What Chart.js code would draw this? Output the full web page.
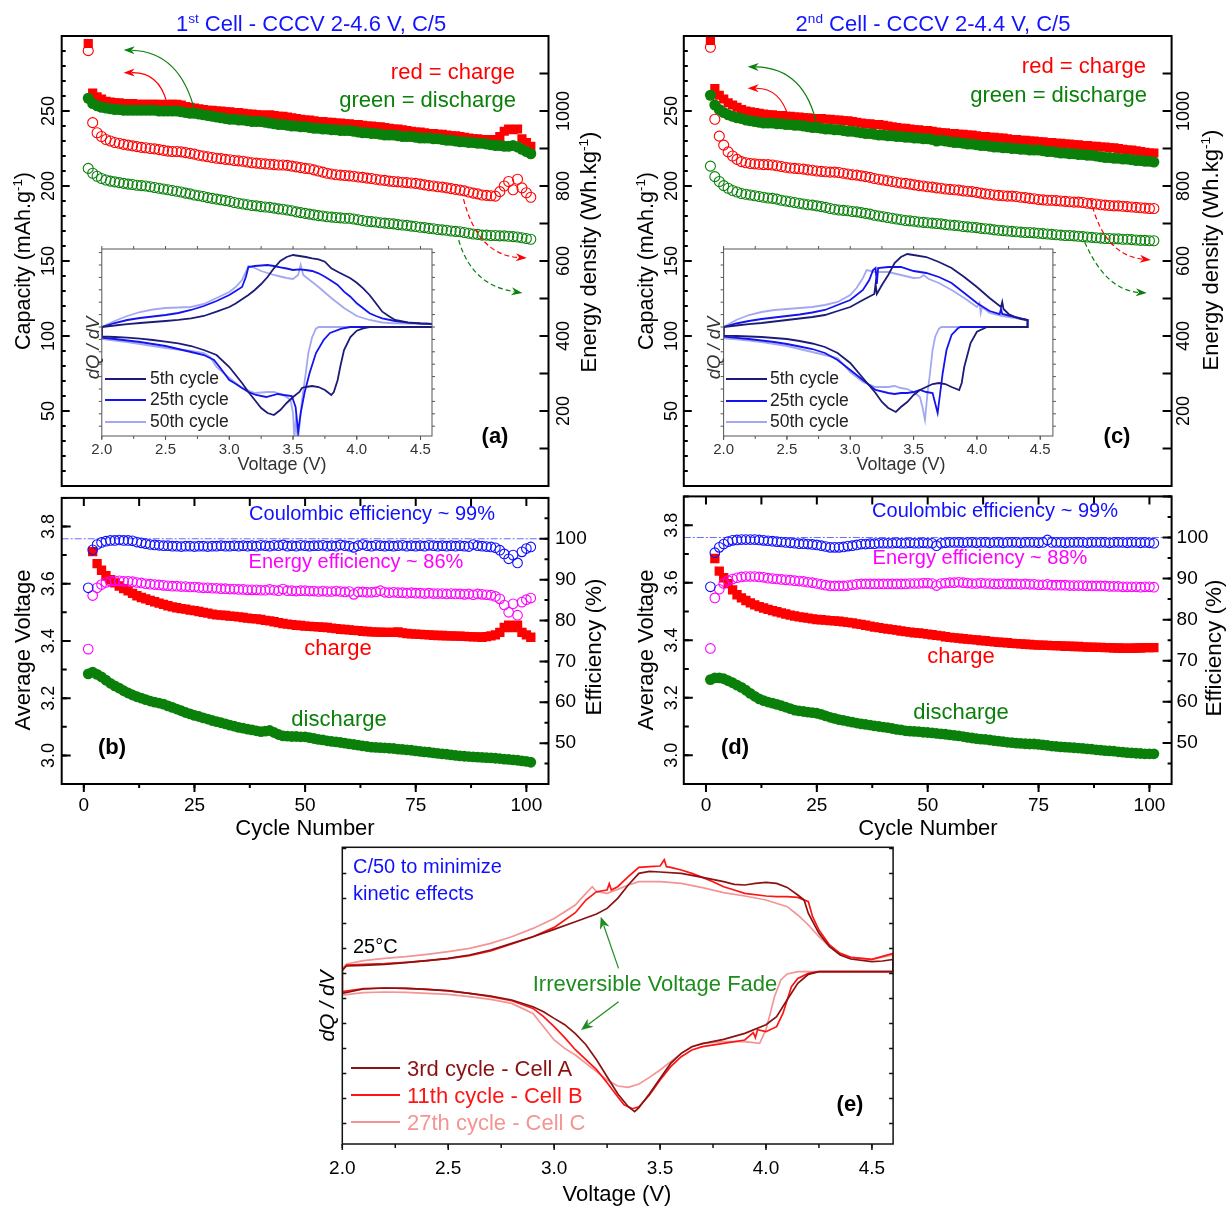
<!DOCTYPE html>
<html>
<head>
<meta charset="utf-8">
<title>Cycling of two cells and dQ/dV</title>
<script src="https://cdn.jsdelivr.net/npm/chart.js@4.4.1/dist/chart.umd.min.js"></script>
<style>
html,body{margin:0;padding:0;background:#fff;}
#wrap{position:relative;width:1226px;height:1206px;overflow:hidden;background:#fff;font-family:'Liberation Sans',Arial,Helvetica,sans-serif;}
#wrap canvas{position:absolute;}
.t{position:absolute;white-space:nowrap;line-height:1;}
.t sup{font-size:62%;vertical-align:baseline;position:relative;top:-0.6em;}
.ln{position:absolute;height:2px;}
</style>
</head>
<body>
<div id="wrap"></div>
<script>
// ---------------- categories ----------------
const cycles = [1,2,3,4,5,6,7,8,9,10,11,12,13,14,15,16,17,18,19,20,21,22,23,24,25,26,27,28,29,30,31,32,33,34,35,36,37,38,39,40,41,42,43,44,45,46,47,48,49,50,51,52,53,54,55,56,57,58,59,60,61,62,63,64,65,66,67,68,69,70,71,72,73,74,75,76,77,78,79,80,81,82,83,84,85,86,87,88,89,90,91,92,93,94,95,96,97,98,99,100,101];

// ---------------- panel (a): 1st cell capacity (mAh/g) and energy (Wh/kg) ----------------
const A_chgCap = [295,262,259.5,258,256.5,256,255.5,255.5,255,255,
255,254.5,254.5,254.5,254.5,254.5,254.5,254,254.5,254.5,
254.5,254,253,252.5,252,251.5,251,250.5,250.5,250,
250,249.5,249.5,249,249,248.5,248,248,247.5,247.5,
247,247.5,247,246.5,246.5,246,245.5,245,244.5,244,
244,243.5,243,243,242.5,242.5,242,242,241.5,241.5,
241,241,240.5,240,240,239.5,239.5,239,238.5,238,
238,237.5,237,236.5,236,236,235.5,235,235,234.5,
234.5,234,233.5,233.5,233,232.5,232,231.5,231.5,231,
231,230.5,231,233,236.5,238,237.5,238,231.5,229,
226.5];
const A_disCap = [258.5,255,253.5,252.5,252,251.5,251,251,250.5,250.5,
250.5,250.5,250.5,250.5,250.5,250.5,250,250,250,250,
250,249.5,249,248.5,248.5,248,247.5,247,246.5,246,
245.5,245,244.5,244.5,244,244,243.5,243,243,243,
242.5,242,241.5,241,241,240.5,240,240,239.5,239.5,
239,238.5,238.5,238,238,237.5,237.5,237,237,237,
236.5,236,235.5,235.5,235,235,234.5,234,234,234,
233.5,233,233,233,232.5,232,232,232,231.5,231.5,
231,230.5,230.5,230,229.5,229.5,229,229,228.5,228.5,
228,227.5,227,227,226.5,226.5,227,226,224.5,223,
221.5];
const A_chgEn = [1161,969,942,932,924,920,916,914,911,909,
907,905,903,902,900,899,897,895,893,892,
892,891,889,887,885,882,880,878,876,874,
873,871,870,868,867,866,864,862,861,860,
859,858,857,856,856,855,853,851,849,847,
846,843,840,837,834,832,830,829,828,827,
826,824,823,821,820,818,816,815,813,812,
811,810,809,808,807,805,803,801,800,798,
797,795,793,791,789,787,784,781,779,776,
775,774,773,785,800,812,790,818,795,782,
770];
const A_disEn = [847,834,826,820,816,813,811,809,807,805,
804,802,801,800,798,796,794,792,790,788,
786,784,781,779,776,774,772,769,767,765,
763,761,759,756,754,752,750,748,747,745,
744,743,741,739,738,736,734,731,729,727,
725,723,721,720,718,717,716,715,714,714,
712,710,708,706,705,704,702,701,700,699,
697,696,695,693,692,690,689,687,686,684,
683,682,680,679,678,676,674,672,671,669,
669,668,668,667,667,666,665,664,662,660,
658];

// ---------------- panel (c): 2nd cell ----------------
const C_chgCap = [297,265,260.5,258,255.5,254,252.5,251,250,249.5,
249,248.5,248,247.5,247.5,247,247,246.5,246.5,246,
246,245.5,245.5,245,245,245,244.5,244.5,244,244,
243.5,243.5,243,242.5,242,241.5,241.5,241,241,240.5,
240,239.5,239,238.5,238.5,238,237.5,237.5,237,237,
236.5,236,235.5,235.5,235,235,234.5,234.5,234,234,
233.5,233,233,232.5,232.5,232,232,231.5,231,231,
230.5,230.5,230,230,229.5,229.5,229,229,228.5,228.5,
228,228,227.5,227.5,227,227,226.5,226.5,226,226,
225.5,225.5,225,224.5,224,224,223.5,223,222.5,222,
222];
const C_disCap = [260.5,254,251,249,247.5,246.5,245.5,245,244,243.5,
243,242.5,242,242,242,241.5,241.5,241,241,240.5,
240.5,240,239.5,239,239,238.5,238,238,237.5,237.5,
237,236.5,236.5,236,235.5,235,235,234.5,234,234,
233.5,233.5,233,233,232.5,232.5,232,232,231.5,231.5,
231,230,230.5,230,229.5,229,229,228.5,228,228,
227.5,227,227,226.5,226,226,225.5,225.5,225,225,
224.5,224.5,224,224,224,223.5,223,223,222.5,222,
222,221.5,221.5,221,221,220.5,220.5,220,219.5,219,
219,218.5,218.5,218,218,217.5,217,217,216.5,216.5,
216];
const C_chgEn = [1170,978,933,909,891,880,871,865,862,860,
859,858,857,857,856,854,852,850,848,847,
846,845,843,842,840,839,838,837,837,836,
834,832,830,829,827,825,823,820,818,816,
814,812,810,808,807,805,803,801,800,798,
797,795,794,792,791,790,789,787,786,785,
783,781,779,778,776,775,774,773,773,772,
770,769,767,766,764,763,762,762,761,760,
759,758,757,757,756,754,753,752,750,749,
748,747,747,746,745,744,743,742,741,740,
740];
const C_disEn = [853,825,812,801,794,788,784,780,778,776,
774,772,770,768,767,765,762,760,758,756,
754,752,750,749,747,745,743,740,738,736,
735,734,732,731,729,727,725,722,720,718,
716,714,712,710,708,707,706,704,703,702,
701,700,699,697,696,695,694,692,691,690,
689,687,686,685,683,682,681,680,679,678,
677,676,676,675,674,673,672,671,670,669,
668,668,667,666,665,664,663,662,661,660,
660,659,659,658,658,657,656,655,655,654,
654];

// ---------------- panel (b): 1st cell voltages (V) and efficiencies (%) ----------------
const B_ce = [88,97.3,98.6,99.1,99.4,99.6,99.6,99.7,99.6,99.6,
99.5,99.2,99,98.8,98.6,98.5,98.4,98.3,98.3,98.2,
98.2,98.1,98.2,98.2,98.1,98.2,98.2,98.1,98.2,98.2,
98.3,98.2,98.2,98.3,98.2,98.3,98.2,98.3,98.2,98.4,
98.3,98.2,98.4,98.3,98.5,98.2,98.3,98.2,98.4,98.3,
98.2,98.3,98.3,98.4,98.2,98.3,98.2,98.5,98.3,98.2,
97.9,98.3,98.6,98.3,98.2,98.4,98.3,98.2,98.3,98.2,
98.3,98.4,98.2,98.3,98.2,98.3,98.2,98.4,98.3,98.2,
98.3,98.2,98.3,98.2,98.3,98.2,98.1,98.6,98.3,98.2,
98.1,98,97.8,97.2,96.3,95.1,96,94.1,96.8,97.6,
98];
const B_ee = [73,86.1,88,88.8,89.3,89.6,89.7,89.7,89.6,89.6,
89.5,89.3,89.2,89,88.9,88.8,88.7,88.6,88.5,88.4,
88.4,88.3,88.3,88.2,88.2,88.1,88,88,87.9,87.9,
87.8,87.8,87.7,87.7,87.6,87.6,87.5,87.5,87.5,87.4,
87.4,87.6,87.4,87.3,87.7,87.3,87.3,87.2,87.3,87.3,
87.2,87.2,87.1,87.2,87.1,87.1,87.2,87.1,87,87.1,
86.4,87,87,86.9,86.9,87,87.3,86.9,86.8,86.9,
86.8,86.8,86.7,86.8,86.7,86.7,86.6,86.7,86.6,86.6,
86.6,86.5,86.6,86.5,86.5,86.4,86.5,86.3,86.5,86.4,
86.3,86.2,85.9,85.3,83.8,82,84.1,81.3,84.5,85.1,
85.5];
const B_chgV = [null,3.712,3.67,3.647,3.628,3.614,3.603,3.592,3.583,3.575,
3.566,3.558,3.552,3.547,3.542,3.537,3.532,3.528,3.523,3.519,
3.516,3.513,3.511,3.508,3.506,3.503,3.5,3.497,3.494,3.491,
3.49,3.489,3.487,3.486,3.484,3.482,3.48,3.478,3.477,3.475,
3.472,3.47,3.467,3.464,3.461,3.459,3.457,3.455,3.454,3.452,
3.451,3.45,3.449,3.448,3.447,3.445,3.443,3.441,3.44,3.439,
3.437,3.436,3.434,3.433,3.432,3.431,3.431,3.43,3.43,3.43,
3.432,3.428,3.426,3.425,3.424,3.423,3.422,3.421,3.42,3.419,
3.419,3.418,3.418,3.417,3.417,3.416,3.415,3.414,3.414,3.413,
3.415,3.418,3.421,3.43,3.447,3.455,3.447,3.455,3.43,3.421,
3.413];
const B_disV = [3.285,3.291,3.283,3.274,3.263,3.252,3.243,3.235,3.226,3.218,
3.211,3.205,3.2,3.195,3.19,3.186,3.183,3.179,3.173,3.168,
3.162,3.156,3.15,3.145,3.14,3.136,3.131,3.127,3.122,3.118,
3.114,3.11,3.106,3.102,3.098,3.095,3.092,3.089,3.086,3.083,
3.085,3.087,3.08,3.073,3.068,3.067,3.066,3.066,3.065,3.065,
3.062,3.059,3.056,3.054,3.051,3.049,3.047,3.045,3.043,3.04,
3.038,3.036,3.033,3.031,3.029,3.028,3.027,3.026,3.025,3.024,
3.022,3.021,3.019,3.018,3.016,3.014,3.012,3.011,3.009,3.007,
3.005,3.004,3.002,3,2.998,2.997,2.996,2.995,2.994,2.993,
2.992,2.991,2.99,2.989,2.987,2.986,2.984,2.983,2.981,2.979,
2.976];

// ---------------- panel (d): 2nd cell ----------------
const D_ce = [88,96.3,97.6,98.4,99,99.3,99.4,99.5,99.5,99.5,
99.5,99.4,99.3,99.2,99.1,99,98.9,98.8,98.7,98.6,
98.5,98.5,98.4,98.3,98.2,98,97.8,97.6,97.6,97.6,
97.7,97.9,98,98.2,98.4,98.4,98.5,98.5,98.6,98.6,
98.6,98.6,98.7,98.6,98.6,98.7,98.6,98.6,98.7,98.6,
98.6,98,98.6,98.7,98.8,98.8,98.8,98.7,98.8,98.8,
98.7,98.8,98.8,98.7,98.8,98.8,98.7,98.8,98.8,98.8,
98.7,98.8,98.8,98.8,98.7,98.8,99.4,98.8,98.8,98.8,
98.7,98.8,98.8,98.8,98.8,98.7,98.8,98.8,98.8,98.8,
98.7,98.8,98.8,98.8,98.7,98.8,98.8,98.7,98.8,98.7,
98.6];
const D_ee = [73,85.3,87.4,88.8,89.5,89.9,90.2,90.4,90.5,90.5,
90.5,90.4,90.3,90.1,90,89.9,89.8,89.7,89.6,89.5,
89.4,89.3,89.1,89,88.8,88.6,88.4,88.2,88.2,88.2,
88.2,88.3,88.5,88.6,88.7,88.7,88.7,88.7,88.7,88.7,
88.7,88.7,88.7,88.7,88.7,88.8,88.8,88.8,88.9,88.9,
88.8,88.3,88.8,88.9,89,89,89.1,89,88.9,88.8,
88.8,88.9,88.8,88.8,88.7,88.7,88.8,88.7,88.7,88.7,
88.6,88.7,88.6,88.6,88.5,88.5,88.6,88.4,88.4,88.4,
88.4,88.3,88.3,88.3,88.3,88.2,88.2,88.2,88.2,88.2,
88.1,88.1,88.1,88,88,88,88,87.9,88,88,
87.9];
const D_chgV = [null,3.684,3.64,3.617,3.597,3.575,3.558,3.547,3.538,3.53,
3.523,3.517,3.512,3.507,3.503,3.499,3.495,3.491,3.487,3.484,
3.481,3.479,3.477,3.474,3.472,3.471,3.47,3.468,3.467,3.466,
3.464,3.462,3.46,3.457,3.455,3.452,3.449,3.446,3.444,3.441,
3.439,3.437,3.435,3.432,3.43,3.428,3.426,3.425,3.423,3.421,
3.419,3.417,3.415,3.412,3.41,3.408,3.407,3.405,3.404,3.402,
3.401,3.399,3.398,3.396,3.394,3.393,3.392,3.391,3.389,3.388,
3.387,3.386,3.385,3.384,3.383,3.383,3.382,3.381,3.381,3.38,
3.379,3.379,3.378,3.378,3.377,3.376,3.376,3.375,3.375,3.374,
3.374,3.373,3.373,3.372,3.372,3.372,3.373,3.373,3.374,3.374,
3.374];
const D_disV = [3.263,3.269,3.269,3.266,3.259,3.252,3.244,3.236,3.226,3.215,
3.205,3.196,3.19,3.185,3.181,3.177,3.172,3.167,3.162,3.157,
3.154,3.152,3.15,3.148,3.146,3.142,3.137,3.132,3.128,3.124,
3.121,3.118,3.115,3.112,3.109,3.107,3.105,3.102,3.1,3.098,
3.096,3.093,3.09,3.088,3.085,3.084,3.083,3.082,3.08,3.079,
3.078,3.076,3.074,3.073,3.071,3.069,3.067,3.065,3.062,3.06,
3.058,3.056,3.055,3.053,3.051,3.049,3.047,3.045,3.044,3.042,
3.041,3.04,3.039,3.039,3.038,3.036,3.034,3.032,3.031,3.029,
3.028,3.027,3.026,3.025,3.024,3.022,3.021,3.019,3.018,3.016,
3.015,3.014,3.012,3.011,3.009,3.008,3.007,3.006,3.005,3.005,
3.005];

// ---------------- inset of (a): dQ/dV (arb. units), charge c / discharge d ----------------
const ia5cV = [2.0,2.1,2.2,2.3,2.4,2.5,2.6,2.7,2.8,2.9,3.0,3.05,3.1,3.15,3.2,3.25,3.3,3.35,3.4,3.45,3.5,3.55,3.6,3.65,3.7,3.75,3.8,3.85,3.9,3.95,4.0,4.05,4.1,4.15,4.2,4.25,4.3,4.4,4.5,4.6];
const ia5cY = [0,1.5,2.8,4,5,6,7.2,8.7,11,15.3,20,23.5,27.7,32,37,43,50,58.7,66,70,72,71,70,68.7,67.7,65.3,58.7,55.3,52,48.7,44.3,38.7,32,23.7,15.3,11,7,4.7,3.7,3];
const ia5dV = [4.6,4.1,4.05,4.0,3.95,3.9,3.87,3.85,3.82,3.8,3.77,3.75,3.7,3.65,3.6,3.57,3.55,3.5,3.45,3.4,3.35,3.3,3.25,3.2,3.15,3.1,3.05,3.0,2.9,2.8,2.7,2.6,2.5,2.4,2.3,2.2,2.1,2.0];
const ia5dY = [0,0,-1.3,-3.7,-10,-23,-40,-53,-65,-68,-65,-63,-60,-59,-60,-61,-65,-70,-76,-83,-88,-86,-81,-73,-65,-56,-48,-40,-28,-23,-19,-16.3,-14.7,-13,-11.7,-10.7,-10,-9.3];
const ia25cV = [2.0,2.1,2.2,2.3,2.4,2.5,2.6,2.7,2.8,2.9,3.0,3.05,3.1,3.13,3.15,3.2,3.25,3.3,3.35,3.4,3.45,3.5,3.55,3.6,3.65,3.7,3.75,3.8,3.85,3.9,3.95,4.0,4.05,4.1,4.15,4.2,4.3,4.4,4.5,4.6];
const ia25cY = [0,4,7,9,10.5,12,14,17,21,26,32,36,40,50,60,61,61.5,62,61,59.7,58.5,57,57.7,57,56,53.7,50.3,46.3,42,35.3,30.3,23.7,18.7,13.7,11,8.7,6,4.3,3.5,3];
const ia25dV = [4.6,3.95,3.88,3.79,3.74,3.68,3.63,3.59,3.56,3.54,3.52,3.49,3.43,3.38,3.29,3.21,3.15,3.1,3.04,3.0,2.93,2.88,2.8,2.7,2.6,2.5,2.4,2.3,2.2,2.1,2.0];
const ia25dY = [0,0,-1.7,-6,-13,-26,-46,-66,-86,-105,-80,-69,-68,-67,-70,-68,-65,-61,-56,-53,-41,-33,-28,-25,-22,-19,-17,-15,-13.5,-12,-10.7];
const ia50cV = [2.0,2.1,2.2,2.3,2.4,2.5,2.6,2.7,2.8,2.9,3.0,3.05,3.1,3.13,3.15,3.2,3.25,3.3,3.35,3.4,3.45,3.5,3.54,3.56,3.58,3.6,3.65,3.7,3.75,3.8,3.85,3.9,3.95,4.0,4.05,4.1,4.2,4.3,4.4,4.6];
const ia50cY = [0,6,11,15,17.5,19,19.5,20,23,29,35,40,47,55,61,59,56,54,52,50.5,49,48,52,62,52,50,45,40,34.5,29,24,19,15,11,9,7,4.5,3.7,3.5,3];
const ia50dV = [4.6,3.7,3.68,3.65,3.62,3.6,3.57,3.55,3.54,3.53,3.52,3.51,3.5,3.48,3.45,3.4,3.35,3.3,3.2,3.1,3.0,2.9,2.85,2.8,2.7,2.6,2.5,2.4,2.3,2.2,2.1,2.0];
const ia50dY = [0,0,-1.7,-10,-26,-46,-73,-100,-112,-105,-95,-112,-86,-73,-70,-67,-65,-65,-66,-61,-51,-40,-30,-26,-24,-22.5,-21,-19,-17,-15,-13.5,-12];

// ---------------- inset of (c) ----------------
const ic5cV = [2.0,2.1,2.2,2.3,2.4,2.5,2.6,2.7,2.8,2.9,3.0,3.1,3.19,3.2,3.21,3.25,3.3,3.35,3.4,3.45,3.5,3.6,3.7,3.8,3.9,4.0,4.1,4.19,4.2,4.21,4.25,4.3,4.35,4.4];
const ic5cY = [0,1.5,2.8,4,5.5,7,8.5,10,12,16,20,27,33,43,33,42,52,64,70,73,72,70,65,59,50,40,29,20,25,18,13,10,8,7];
const ic5dV = [4.4,4.08,4.05,4.0,3.95,3.9,3.88,3.86,3.8,3.75,3.7,3.65,3.6,3.55,3.5,3.45,3.4,3.36,3.3,3.25,3.2,3.1,3.0,2.9,2.8,2.7,2.6,2.5,2.4,2.3,2.2,2.1,2.0];
const ic5dY = [0,0,-1.7,-4.7,-16,-40,-56,-63,-60,-57,-56,-57,-60,-63,-68,-75,-80,-85,-81,-75,-66,-51,-36,-26,-20,-16.5,-14,-12,-11,-10,-9.5,-9,-8.7];
const ic25cV = [2.0,2.1,2.2,2.3,2.4,2.5,2.6,2.7,2.8,2.9,3.0,3.1,3.15,3.18,3.2,3.21,3.22,3.3,3.4,3.5,3.6,3.7,3.8,3.9,4.0,4.1,4.18,4.19,4.2,4.3,4.4];
const ic25cY = [0,3.5,6,8,9.5,11,12.5,14.5,17,22,27,37,47,57,59,43,59,60,60,56,54,50,44,34,24,16,13,18,13,10,7];
const ic25dV = [4.4,3.87,3.85,3.8,3.76,3.73,3.71,3.69,3.67,3.65,3.6,3.55,3.5,3.45,3.4,3.35,3.3,3.2,3.1,3.0,2.9,2.8,2.7,2.6,2.5,2.4,2.3,2.2,2.1,2.0];
const ic25dY = [0,0,-1.3,-8,-23,-46,-66,-86,-76,-66,-65,-63,-65,-66,-66,-67,-66,-63,-53,-43,-33,-26,-22,-19.5,-17,-15,-13.5,-12,-10.8,-9.7];
const ic50cV = [2.0,2.1,2.2,2.3,2.4,2.5,2.6,2.7,2.8,2.9,3.0,3.05,3.1,3.13,3.2,3.3,3.4,3.5,3.55,3.58,3.62,3.7,3.8,3.9,4.0,4.02,4.03,4.04,4.1,4.2,4.3,4.4];
const ic50cY = [0,7,12,15,17,18,19,20,22,25,32,39,49,57,55,55,52,49,49.3,52,48,44,37,29,20,24,14,20,14,11,9,7];
const ic50dV = [4.4,3.72,3.7,3.67,3.65,3.63,3.61,3.59,3.57,3.55,3.5,3.45,3.4,3.35,3.3,3.2,3.1,3.0,2.95,2.9,2.8,2.7,2.6,2.5,2.4,2.3,2.2,2.1,2.0];
const ic50dY = [0,0,-1.7,-10,-23,-46,-66,-93,-80,-70,-65,-62,-61,-59,-60,-60,-55,-45,-38,-31,-28,-25,-22,-19,-17,-15,-13.5,-12.3,-11.3];

// ---------------- panel (e): C/50 dQ/dV ----------------
const eAcV = [2.0,2.02,2.1,2.2,2.3,2.4,2.5,2.6,2.7,2.8,2.9,3.0,3.1,3.2,3.25,3.3,3.35,3.4,3.45,3.5,3.6,3.7,3.8,3.85,3.9,3.95,4.0,4.05,4.1,4.15,4.18,4.2,4.25,4.3,4.35,4.4,4.5,4.55,4.6];
const eAcY = [1.7,5.7,6.3,7.3,9,11,13.3,16.7,21.7,28.3,35,42.3,50,57.7,63.3,73.3,86.7,98.3,100.3,99.7,98.3,94.3,90,87.3,86.7,88.3,89.3,88.3,84.3,76.7,71.7,58.3,38.3,25,16.7,12.7,10,10.7,12.3];
const eAdV = [4.6,4.25,4.2,4.15,4.1,4.05,4.0,3.9,3.8,3.7,3.65,3.6,3.55,3.5,3.45,3.4,3.38,3.35,3.3,3.25,3.2,3.15,3.1,3.05,3.0,2.95,2.9,2.8,2.7,2.6,2.5,2.4,2.3,2.2,2.1,2.0];
const eAdY = [0,0,-2.7,-11.7,-28,-45,-53,-61.7,-67.7,-72,-75,-81.7,-91.7,-106.7,-122,-136,-140,-135,-122,-105,-88,-73,-62,-53,-46.7,-40,-35,-28.3,-24.3,-21.7,-19,-17.7,-16.7,-16.3,-17.3,-21.7];
const eBcV = [2.0,2.02,2.1,2.2,2.3,2.4,2.5,2.6,2.7,2.8,2.9,3.0,3.1,3.15,3.2,3.25,3.26,3.27,3.3,3.35,3.4,3.45,3.5,3.52,3.53,3.55,3.6,3.65,3.7,3.75,3.8,3.85,3.9,4.0,4.05,4.1,4.15,4.2,4.22,4.25,4.3,4.35,4.4,4.5,4.6];
const eBcY = [1,6.7,7.3,8,9.3,11,13,16,20.7,27.7,35,44.3,59,71.7,80,81.7,88,81.7,85,95,104.3,105,105.7,112,105,104.3,101.7,98.3,94.3,90,85,81.7,78.3,75.7,75,75,74.3,70,55,41.7,26.7,18.3,14.3,12.3,18.3];
const eBdV = [4.6,4.25,4.2,4.15,4.12,4.1,4.08,4.05,4.0,3.96,3.95,3.94,3.9,3.8,3.7,3.65,3.6,3.55,3.5,3.45,3.4,3.37,3.33,3.3,3.25,3.2,3.15,3.1,3.05,3.0,2.95,2.9,2.8,2.7,2.6,2.5,2.4,2.3,2.2,2.1,2.0];
const eBdY = [0,0,-1.7,-6.7,-15,-28.3,-41.7,-55,-60,-58,-66,-61,-68.3,-71.7,-75,-78.3,-85,-95,-108.3,-123.3,-135,-137,-133,-125,-111,-98,-88,-78,-66,-55,-45,-36.7,-29,-25,-21.7,-19.3,-17.7,-16.7,-16.3,-17,-20];
const eCcV = [2.0,2.02,2.1,2.2,2.3,2.4,2.5,2.6,2.7,2.8,2.9,3.0,3.1,3.15,3.18,3.2,3.25,3.3,3.35,3.4,3.5,3.6,3.7,3.8,3.9,4.0,4.1,4.15,4.2,4.25,4.3,4.35,4.4,4.5,4.6];
const eCcY = [3.3,7.7,11,13.3,15,17.3,20,23.3,28.3,35,43.3,53.3,66.7,78.3,85,80,78.3,82.3,86.7,90,90,88.3,84,79,75.7,71.7,65,56.7,46.7,35,25,18.3,14.3,12.3,16.7];
const eCdV = [4.6,4.15,4.1,4.07,4.04,4.02,4.0,3.97,3.9,3.8,3.7,3.65,3.6,3.55,3.5,3.45,3.4,3.35,3.3,3.25,3.2,3.15,3.1,3.05,3.0,2.95,2.9,2.8,2.7,2.6,2.5,2.4,2.3,2.2,2.1,2.0];
const eCdY = [0,0,-2.3,-8.3,-25,-41.7,-58,-71.7,-70,-70,-71.7,-75,-81.7,-90,-98.3,-105.7,-112.3,-115.7,-114.3,-108.3,-100,-91.7,-83.3,-76.7,-68.3,-55,-41.7,-31.7,-27.7,-25,-22.7,-21.7,-20.7,-20.3,-21,-23.3];

// ---------------- rendering ----------------
const wrap = document.getElementById('wrap');
const FONT = "'Liberation Sans', Arial, Helvetica, sans-serif";
Chart.defaults.font.family = FONT;
Chart.defaults.color = '#000';
Chart.defaults.animation = false;
Chart.defaults.plugins.legend.display = false;
Chart.defaults.plugins.tooltip.enabled = false;

const RED = '#ff0000', GREEN = '#0a800a', BLUE = '#1010ff', MAG = '#ff00ff', TBLUE = '#1414ff';
const NAVY = '#1c1c78', MIDB = '#1414f0', LIGHTB = '#a3a8f2';
const DRED = '#8b1212', BRED = '#ff1414', PRED = '#f49494', FGREEN = '#1e8c1e';
const NOGRID = {display: false, drawTicks: false, tickLength: 0};

function drawArrow(chart, ar) {
  const ctx = chart.ctx, xs = chart.scales[ar.xa || 'x'], ys = chart.scales[ar.ya || 'y'];
  const P = q => [xs.getPixelForValue(q[0]), ys.getPixelForValue(q[1])];
  const p0 = P(ar.p0), p1 = P(ar.p1);
  const c = ar.c ? P(ar.c) : [(p0[0] + p1[0]) / 2, (p0[1] + p1[1]) / 2];
  const ang = Math.atan2(p1[1] - c[1], p1[0] - c[0]);
  const L = ar.hl || 11, W = ar.hw || 4;
  const cs = Math.cos(ang), sn = Math.sin(ang);
  const e = [p1[0] - cs * L * 0.75, p1[1] - sn * L * 0.75];
  ctx.save();
  ctx.strokeStyle = ar.color; ctx.fillStyle = ar.color; ctx.lineWidth = ar.w || 1.2;
  ctx.setLineDash(ar.dash || []);
  ctx.beginPath(); ctx.moveTo(p0[0], p0[1]); ctx.quadraticCurveTo(c[0], c[1], e[0], e[1]); ctx.stroke();
  ctx.setLineDash([]);
  ctx.beginPath();
  ctx.moveTo(p1[0], p1[1]);
  ctx.lineTo(p1[0] - cs * L + sn * W, p1[1] - sn * L - cs * W);
  ctx.lineTo(p1[0] - cs * L * 0.7, p1[1] - sn * L * 0.7);
  ctx.lineTo(p1[0] - cs * L - sn * W, p1[1] - sn * L + cs * W);
  ctx.closePath(); ctx.fill();
  ctx.restore();
}

const deco = {
  id: 'deco',
  beforeDraw(chart, args, o) {
    if (!o || !o.fill) return;
    const a = chart.chartArea, ctx = chart.ctx;
    ctx.save(); ctx.fillStyle = o.fill; ctx.fillRect(a.left, a.top, a.right - a.left, a.bottom - a.top); ctx.restore();
  },
  beforeDatasetsDraw(chart, args, o) {
    if (!o || !o.hlines) return;
    const a = chart.chartArea, ctx = chart.ctx;
    o.hlines.forEach(h => {
      const y = chart.scales[h.axis].getPixelForValue(h.value);
      ctx.save(); ctx.strokeStyle = h.color; ctx.lineWidth = h.w || 1; ctx.setLineDash(h.dash || []);
      ctx.beginPath(); ctx.moveTo(a.left, y); ctx.lineTo(a.right, y); ctx.stroke(); ctx.restore();
    });
  },
  afterDatasetsDraw(chart, args, o) {
    if (!o) return;
    const a = chart.chartArea, ctx = chart.ctx;
    (o.arrows || []).forEach(ar => drawArrow(chart, ar));
    const fc = o.frame ? o.frame.c : '#000', fw = o.frame ? o.frame.w : 1;
    if (o.frame) {
      ctx.save(); ctx.strokeStyle = fc; ctx.lineWidth = fw;
      ctx.strokeRect(a.left, a.top, a.right - a.left, a.bottom - a.top); ctx.restore();
    }
    (o.ticks || []).forEach(t => {
      const s = chart.scales[t.axis];
      const lo = Math.min(s.min, s.max), hi = Math.max(s.min, s.max), off = t.off || 0;
      const sg = t.dir === 'in' ? 1 : -1;
      ctx.save(); ctx.strokeStyle = fc; ctx.lineWidth = t.w || fw; ctx.beginPath();
      for (let k = Math.ceil((lo - off) / t.step - 1e-9); k <= Math.floor((hi - off) / t.step + 1e-9); k++) {
        const p = s.getPixelForValue(off + k * t.step);
        if (t.side === 'bottom') { ctx.moveTo(p, a.bottom); ctx.lineTo(p, a.bottom - sg * t.len); }
        else if (t.side === 'top') { ctx.moveTo(p, a.top); ctx.lineTo(p, a.top + sg * t.len); }
        else if (t.side === 'left') { ctx.moveTo(a.left, p); ctx.lineTo(a.left + sg * t.len, p); }
        else { ctx.moveTo(a.right, p); ctx.lineTo(a.right - sg * t.len, p); }
      }
      ctx.stroke(); ctx.restore();
    });
    (o.rot || []).forEach(r => {
      const s = chart.scales[r.axis];
      const lo = Math.min(s.min, s.max), hi = Math.max(s.min, s.max);
      ctx.save(); ctx.fillStyle = r.color || '#000'; ctx.font = r.size + 'px ' + FONT;
      ctx.textAlign = 'center'; ctx.textBaseline = 'middle';
      for (let k = Math.ceil(lo / r.step - 1e-9); k <= Math.floor(hi / r.step + 1e-9); k++) {
        const v = k * r.step;
        if (v < r.from - 1e-9 || v > r.to + 1e-9) continue;
        const p = s.getPixelForValue(v);
        const x = (r.side === 'left' ? a.left : a.right) + r.off;
        ctx.save(); ctx.translate(x, p); ctx.rotate(-Math.PI / 2);
        ctx.fillText(v.toFixed(r.dec || 0), 0, 0); ctx.restore();
      }
      ctx.restore();
    });
  }
};
Chart.register(deco);

function mk(left, top, w, h, cfg) {
  const c = document.createElement('canvas');
  c.width = w; c.height = h;
  c.style.left = left + 'px'; c.style.top = top + 'px'; c.style.width = w + 'px'; c.style.height = h + 'px';
  wrap.appendChild(c);
  cfg.options.responsive = false;
  cfg.options.devicePixelRatio = 1;
  cfg.options.events = [];
  return new Chart(c.getContext('2d'), cfg);
}
const ser = ys => cycles.map((c, i) => ({x: c, y: ys[i]})).filter(p => p.y !== null);
const pairs = (xs, ys) => xs.map((x, i) => ({x: x, y: ys[i]}));
const loopPts = (vc, yc, vd, yd) => { const p = pairs(vc, yc).concat(pairs(vd, yd)); p.push(p[0]); return p; };
function marks(data, axis, style, color, r, open) {
  return {data: data, yAxisID: axis, showLine: false, pointStyle: style, pointRadius: r,
    backgroundColor: open ? 'rgba(0,0,0,0)' : color, borderColor: color, borderWidth: open ? 1.1 : 0};
}
function curve(data, color, w) {
  return {data: data, showLine: true, pointRadius: 0, borderColor: color, backgroundColor: color, borderWidth: w, fill: false, tension: 0};
}
function hid(pos, w, min, max) {
  return {type: 'linear', position: pos, min: min, max: max, ticks: {display: false}, grid: NOGRID, border: {display: false}, afterFit: s => { s.width = w; }};
}

function capChart(left, W, lw, rw, chg, dis, chgE, disE, arrows, offL, offR) {
  return mk(left, 0, W, 500, {
    type: 'scatter',
    data: {datasets: [
      marks(ser(dis), 'y', 'circle', GREEN, 5.5, false),
      marks(ser(chg), 'y', 'rect', RED, 6.5, false),
      marks(ser(disE), 'y2', 'circle', GREEN, 5, true),
      marks(ser(chgE), 'y2', 'circle', RED, 5, true)
    ]},
    options: {
      layout: {padding: {left: 0, right: 0, top: 36, bottom: 14}},
      scales: {
        x: {type: 'linear', min: -5, max: 105, display: false},
        y: hid('left', lw, 0, 300),
        y2: hid('right', rw, 0, 1200)
      },
      plugins: {deco: {
        frame: {w: 2, c: '#000'},
        ticks: [
          {axis: 'y', side: 'left', step: 10, len: 4, dir: 'in'},
          {axis: 'y', side: 'left', step: 50, len: 8, dir: 'in'},
          {axis: 'y2', side: 'right', step: 100, len: 9, dir: 'in'}
        ],
        rot: [
          {axis: 'y', side: 'left', off: offL, step: 50, from: 50, to: 250, size: 18},
          {axis: 'y2', side: 'right', off: offR, step: 200, from: 200, to: 1000, size: 18}
        ],
        arrows: arrows
      }}
    }
  });
}

function voltChart(left, W, lw, rw, ce, ee, chgV, disV, offL, rPad) {
  return mk(left, 480, W, 360, {
    type: 'scatter',
    data: {datasets: [
      marks(ser(ce), 'y2', 'circle', BLUE, 4.8, true),
      marks(ser(ee), 'y2', 'circle', MAG, 4.8, true),
      marks(ser(chgV), 'y', 'rect', RED, 6.6, false),
      marks(ser(disV), 'y', 'circle', GREEN, 5.4, false)
    ]},
    options: {
      layout: {padding: {left: 0, right: 0, top: 6, bottom: 0}},
      scales: {
        x: {type: 'linear', min: -5, max: 105,
            ticks: {stepSize: 25, includeBounds: false, padding: 10.5, font: {size: 19}, maxRotation: 0, autoSkip: false},
            grid: NOGRID, border: {display: false}, afterFit: s => { s.height = 56; }},
        y: hid('left', lw, 2.9, 3.9),
        y2: {type: 'linear', position: 'right', min: 40, max: 110,
             ticks: {stepSize: 10, includeBounds: false, padding: rPad, font: {size: 19}, callback: v => (v >= 50 && v <= 100) ? String(v) : ''},
             grid: NOGRID, border: {display: false}, afterFit: s => { s.width = rw; }}
      },
      plugins: {deco: {
        frame: {w: 2, c: '#000'},
        hlines: [{axis: 'y2', value: 100, color: '#6b6bff', w: 1, dash: [7, 2, 2, 2]}],
        ticks: [
          {axis: 'x', side: 'bottom', step: 12.5, len: 4, dir: 'out'},
          {axis: 'x', side: 'bottom', step: 25, len: 8, dir: 'out'},
          {axis: 'x', side: 'top', step: 12.5, len: 8, dir: 'in'},
          {axis: 'y', side: 'left', step: 0.1, len: 5, dir: 'in'},
          {axis: 'y', side: 'left', step: 0.2, len: 9, dir: 'in'},
          {axis: 'y2', side: 'right', step: 5, len: 4, dir: 'in'},
          {axis: 'y2', side: 'right', step: 10, len: 9, dir: 'in'}
        ],
        rot: [{axis: 'y', side: 'left', off: offL, step: 0.2, from: 3.0, to: 3.8, dec: 1, size: 18}]
      }}
    }
  });
}

function insetChart(left, W, padL, padR, xmax, sets) {
  return mk(left, 240, W, 235, {
    type: 'scatter',
    data: {datasets: sets},
    options: {
      layout: {padding: {left: padL, right: padR, top: 9, bottom: 0}},
      scales: {
        x: {type: 'linear', min: 2.0, max: xmax,
            ticks: {stepSize: 0.5, includeBounds: false, padding: 4.5, font: {size: 15}, color: '#333', maxRotation: 0, autoSkip: false, callback: v => Number(v).toFixed(1)},
            grid: NOGRID, border: {display: false}, afterFit: s => { s.height = 39; }},
        y: {type: 'linear', min: -109, max: 78, display: false}
      },
      plugins: {deco: {
        fill: '#fff',
        frame: {w: 1, c: '#555'},
        ticks: [
          {axis: 'x', side: 'bottom', step: 0.25, len: 3, dir: 'out', w: 1},
          {axis: 'x', side: 'bottom', step: 0.5, len: 4, dir: 'out', w: 1},
          {axis: 'x', side: 'top', step: 0.25, len: 3, dir: 'out', w: 1},
          {axis: 'y', side: 'left', step: 12.4, len: 3, dir: 'out', w: 1},
          {axis: 'y', side: 'right', step: 12.4, len: 3, dir: 'out', w: 1}
        ]
      }}
    }
  });
}

// panel (a) and (c)
capChart(0, 615, 61.7, 66.5, A_chgCap, A_disCap, A_chgEn, A_disEn, [
  {p0: [25.1, 249.5], c: [21.8, 289.3], p1: [9.0, 290.7], color: GREEN},
  {p0: [18.7, 256.2], c: [16.9, 276], p1: [9.0, 275.5], color: RED},
  {p0: [85.8, 191.3], c: [89.0, 154], p1: [100.1, 152], color: RED, dash: [5, 3]},
  {p0: [84.7, 164], c: [87.6, 134], p1: [99.1, 128.7], color: GREEN, dash: [5, 3]}
], -12.5, 15.5);
capChart(622, 604, 61.8, 54.4, C_chgCap, C_disCap, C_chgEn, C_disEn, [
  {p0: [25.1, 239.3], c: [22.4, 278.7], p1: [9.4, 279.5], color: GREEN},
  {p0: [18.6, 246], c: [16.7, 265.3], p1: [9.4, 265.1], color: RED},
  {p0: [86.7, 191.3], c: [89.7, 154], p1: [100.3, 150.7], color: RED, dash: [5, 3]},
  {p0: [85.4, 162.7], c: [90.1, 130.7], p1: [99.4, 128.7], color: GREEN, dash: [5, 3]}
], -11.5, 12);

// panel (b) and (d)
voltChart(0, 615, 61.7, 66.5, B_ce, B_ee, B_chgV, B_disV, -12.5, 6.5);
voltChart(622, 604, 61.8, 54.4, D_ce, D_ee, D_chgV, D_disV, -11.5, 5);

// insets
insetChart(60, 390, 41.8, 18, 4.59, [
  curve(loopPts(ia5cV, ia5cY, ia5dV, ia5dY), NAVY, 1.8),
  curve(loopPts(ia25cV, ia25cY, ia25dV, ia25dY), MIDB, 1.8),
  curve(loopPts(ia50cV, ia50cY, ia50dV, ia50dY), LIGHTB, 1.8)
]);
insetChart(680, 390, 43.6, 17.1, 4.6, [
  curve(loopPts(ic5cV, ic5cY, ic5dV, ic5dY), NAVY, 1.8),
  curve(loopPts(ic25cV, ic25cY, ic25dV, ic25dY), MIDB, 1.8),
  curve(loopPts(ic50cV, ic50cY, ic50dV, ic50dY), LIGHTB, 1.8)
]);

// panel (e)
mk(300, 840, 620, 366, {
  type: 'scatter',
  data: {datasets: [
    curve(loopPts(eAcV, eAcY, eAdV, eAdY), DRED, 1.7),
    curve(loopPts(eBcV, eBcY, eBdV, eBdY), BRED, 1.7),
    curve(loopPts(eCcV, eCcY, eCdV, eCdY), PRED, 1.7)
  ]},
  options: {
    layout: {padding: {left: 42.3, right: 26.9, top: 7.3, bottom: 0}},
    scales: {
      x: {type: 'linear', min: 2.0, max: 4.6,
          ticks: {stepSize: 0.5, includeBounds: false, padding: 13.5, font: {size: 19}, maxRotation: 0, autoSkip: false, callback: v => Number(v).toFixed(1)},
          grid: NOGRID, border: {display: false}, afterFit: s => { s.height = 62; }},
      y: {type: 'linear', min: -172.3, max: 124.4, display: false}
    },
    plugins: {deco: {
      frame: {w: 1.5, c: '#111'},
      ticks: [
        {axis: 'x', side: 'bottom', step: 0.25, len: 4, dir: 'out'},
        {axis: 'x', side: 'bottom', step: 0.5, len: 6, dir: 'out'},
        {axis: 'y', side: 'left', step: 25, off: -1.7, len: 4, dir: 'in'},
        {axis: 'y', side: 'right', step: 25, off: -1.7, len: 4, dir: 'in'}
      ],
      arrows: [
        {p0: [3.304, 3.3], p1: [3.22, 55], color: FGREEN, w: 1.2, hl: 12, hw: 5},
        {p0: [3.304, -30], p1: [3.127, -58.3], color: FGREEN, w: 1.2, hl: 12, hw: 5}
      ]
    }}
  }
});

// ---------------- text overlays ----------------
const texts = [
  {h: '1<sup>st</sup> Cell - CCCV 2-4.6 V, C/5', x: 311, y: 24, c: TBLUE, s: 22},
  {h: 'red = charge', x: 515, y: 72, c: RED, s: 22, a: 'r'},
  {h: 'green = discharge', x: 516, y: 100, c: GREEN, s: 22, a: 'r'},
  {h: '(a)', x: 495, y: 436, s: 22, b: 1},
  {h: 'Capacity (mAh.g<sup>-1</sup>)', x: 24, y: 261, s: 21.5, r: 1},
  {h: 'Energy density (Wh.kg<sup>-1</sup>)', x: 589, y: 252, s: 22, r: 1},
  {h: '2<sup>nd</sup> Cell - CCCV 2-4.4 V, C/5', x: 933, y: 24, c: TBLUE, s: 22},
  {h: 'red = charge', x: 1146, y: 66, c: RED, s: 22, a: 'r'},
  {h: 'green = discharge', x: 1147, y: 95, c: GREEN, s: 22, a: 'r'},
  {h: '(c)', x: 1117, y: 436, s: 22, b: 1},
  {h: 'Capacity (mAh.g<sup>-1</sup>)', x: 647, y: 261, s: 21.5, r: 1},
  {h: 'Energy density (Wh.kg<sup>-1</sup>)', x: 1211, y: 250, s: 22, r: 1},
  {h: 'Coulombic efficiency ~ 99%', x: 372, y: 513, c: BLUE, s: 20},
  {h: 'Energy efficiency ~ 86%', x: 356, y: 561, c: MAG, s: 20},
  {h: 'charge', x: 338, y: 648, c: RED, s: 22},
  {h: 'discharge', x: 339, y: 719, c: GREEN, s: 22},
  {h: '(b)', x: 112, y: 747, s: 22, b: 1},
  {h: 'Average Voltage', x: 23, y: 650, s: 22, r: 1},
  {h: 'Efficiency (%)', x: 594, y: 647, s: 22.5, r: 1},
  {h: 'Cycle Number', x: 305, y: 828, s: 22},
  {h: 'Coulombic efficiency ~ 99%', x: 995, y: 510, c: BLUE, s: 20},
  {h: 'Energy efficiency ~ 88%', x: 980, y: 557, c: MAG, s: 20},
  {h: 'charge', x: 961, y: 656, c: RED, s: 22},
  {h: 'discharge', x: 961, y: 712, c: GREEN, s: 22},
  {h: '(d)', x: 735, y: 747, s: 22, b: 1},
  {h: 'Average Voltage', x: 646, y: 650, s: 22, r: 1},
  {h: 'Efficiency (%)', x: 1214, y: 648, s: 22.5, r: 1},
  {h: 'Cycle Number', x: 928, y: 828, s: 22},
  {h: 'Voltage (V)', x: 282, y: 464, s: 18, c: '#333'},
  {h: 'dQ / dV', x: 93, y: 348, s: 18.5, c: '#333', r: 1, i: 1},
  {h: '5th cycle', x: 150, y: 379, s: 17.5, c: '#222', a: 'l'},
  {h: '25th cycle', x: 150, y: 400, s: 17.5, c: '#222', a: 'l'},
  {h: '50th cycle', x: 150, y: 422, s: 17.5, c: '#222', a: 'l'},
  {h: 'Voltage (V)', x: 901, y: 464, s: 18, c: '#333'},
  {h: 'dQ / dV', x: 714, y: 348, s: 18.5, c: '#333', r: 1, i: 1},
  {h: '5th cycle', x: 770, y: 379, s: 17.5, c: '#222', a: 'l'},
  {h: '25th cycle', x: 770, y: 401, s: 17.5, c: '#222', a: 'l'},
  {h: '50th cycle', x: 770, y: 422, s: 17.5, c: '#222', a: 'l'},
  {h: 'C/50 to minimize', x: 353, y: 866, c: BLUE, s: 20, a: 'l'},
  {h: 'kinetic effects', x: 353, y: 893, c: BLUE, s: 20, a: 'l'},
  {h: '25°C', x: 353, y: 946, s: 20, a: 'l'},
  {h: 'Irreversible Voltage Fade', x: 655, y: 984, c: FGREEN, s: 22, a: 'c'},
  {h: '(e)', x: 850, y: 1104, s: 22, b: 1},
  {h: 'dQ / dV', x: 326, y: 1006, s: 21, r: 1, i: 1},
  {h: 'Voltage (V)', x: 617, y: 1194, s: 22},
  {h: '3rd cycle - Cell A', x: 407, y: 1069, c: DRED, s: 22, a: 'l'},
  {h: '11th cycle - Cell B', x: 407, y: 1096, c: BRED, s: 22, a: 'l'},
  {h: '27th cycle - Cell C', x: 407, y: 1123, c: PRED, s: 22, a: 'l'}
];
texts.forEach(t => {
  const d = document.createElement('div');
  d.className = 't'; d.innerHTML = t.h;
  d.style.left = t.x + 'px'; d.style.top = t.y + 'px';
  d.style.fontSize = t.s + 'px'; d.style.color = t.c || '#000';
  if (t.b) d.style.fontWeight = 'bold';
  if (t.i) d.style.fontStyle = 'italic';
  const ax = t.a === 'l' ? '0' : (t.a === 'r' ? '-100%' : '-50%');
  d.style.transform = 'translate(' + ax + ',-50%)' + (t.r ? ' rotate(-90deg)' : '');
  wrap.appendChild(d);
});
const legendLines = [
  {x1: 105, x2: 146, y: 379, c: NAVY}, {x1: 105, x2: 146, y: 400, c: MIDB}, {x1: 105, x2: 146, y: 422, c: LIGHTB},
  {x1: 726, x2: 767, y: 379, c: NAVY}, {x1: 726, x2: 767, y: 401, c: MIDB}, {x1: 726, x2: 767, y: 422, c: LIGHTB},
  {x1: 351, x2: 400, y: 1068, c: DRED}, {x1: 351, x2: 400, y: 1095, c: BRED}, {x1: 351, x2: 400, y: 1122, c: PRED}
];
legendLines.forEach(l => {
  const d = document.createElement('div');
  d.className = 'ln';
  d.style.left = l.x1 + 'px'; d.style.top = (l.y - 1) + 'px'; d.style.width = (l.x2 - l.x1) + 'px'; d.style.background = l.c;
  wrap.appendChild(d);
});
</script>
</body>
</html>
